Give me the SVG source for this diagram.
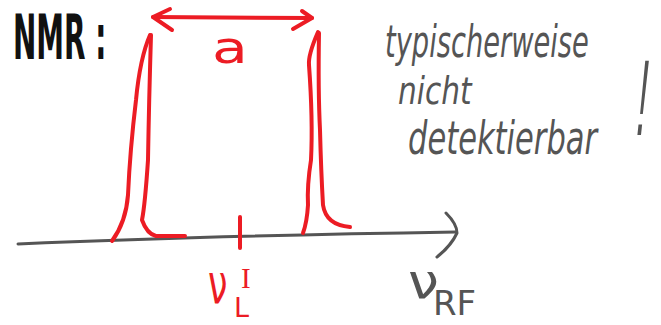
<svg xmlns="http://www.w3.org/2000/svg" width="661" height="325" viewBox="0 0 661 325">
<style>
.red{fill:none;stroke:#ec1c24;stroke-width:4;stroke-linecap:round;stroke-linejoin:round}
.gray{fill:none;stroke:#555;stroke-width:3;stroke-linecap:round;stroke-linejoin:round}
.tr{fill:#ec1c24;font-family:"DejaVu Sans",sans-serif}
.tg{fill:#555;font-family:"DejaVu Sans",sans-serif;font-style:italic}
.tgu{fill:#555;font-family:"DejaVu Sans",sans-serif}
.tb{fill:#111;font-family:"DejaVu Sans",sans-serif;font-weight:bold}
</style>
<rect width="661" height="325" fill="#fff"/>
<g id="axis">
<path class="gray" d="M18,244 Q200,236 456,232"/>
<path class="gray" d="M446,213 Q457,224 457,233 Q451,246 437,257"/>
<path class="red" d="M240,217 L240,248"/>
</g>
<g id="peak-left">
<path class="red" d="M150,35 Q140,58 136,100 Q130,150 128,195 Q126,222 112,241"/>
<path class="red" d="M151,35 Q149,100 148,160 Q145,205 142,220 Q147,234 156,236 L185,236"/>
</g>
<g id="peak-right">
<path class="red" d="M318,32 Q308,55 309,65 Q313,120 311,160 Q307,185 308,205 Q307,222 303,233"/>
<path class="red" d="M319,33 Q318,90 320,130 Q321,170 323,205 Q326,225 350,227"/>
</g>
<g id="splitting">
<path class="red" d="M153,17 L312,18"/>
<path class="red" d="M170,9 L153,17 L172,30"/>
<path class="red" d="M302,11 L312,18 L293,29"/>
<text class="tr" font-size="44" transform="translate(212,63) scale(1.33,1)">a</text>
</g>
<g id="labels">
<text class="tb" font-size="62" transform="translate(13,59) scale(0.45,1)">NMR :</text>
<text class="tr" font-size="56" transform="translate(208,303) scale(0.62,1)">ν</text>
<text fill="#ec1c24" font-family="Liberation Serif, serif" x="241" y="288" font-size="29">I</text>
<text class="tr" x="234" y="317" font-size="27">L</text>
<text class="tgu" font-size="48" transform="translate(408,298) scale(1.15,1)">ν</text>
<text class="tgu" font-size="34" transform="translate(433,315) scale(1.0,1)">RF</text>
<text class="tg" font-size="44" transform="translate(385,57) scale(0.62,1)">typischerweise</text>
<text class="tg" font-size="37" transform="translate(398,104) scale(0.8,1)">nicht</text>
<text class="tg" font-size="47" transform="translate(408,154) scale(0.65,1)">detektierbar</text>
<text fill="#555" font-family="Liberation Sans, sans-serif" font-size="108" transform="translate(634,135) skewX(-6) scale(0.35,1)">!</text>
</g>
</svg>
